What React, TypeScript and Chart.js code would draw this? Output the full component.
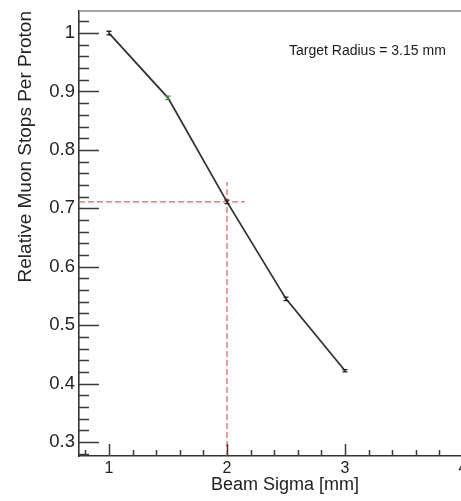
import React, { useEffect, useRef } from 'react';
import { Chart, registerables } from 'chart.js';

Chart.register(...registerables);

// ---- data ----
const sigma = [1, 1.5, 2, 2.5, 3];
const stops = [1.0, 0.889, 0.711, 0.545, 0.422];
const stopErr = [0.003, 0.003, 0.003, 0.003, 0.002];
const errColors = ['#222222', '#3c8c3c', '#222222', '#222222', '#222222'];
const yTickValues = [0.3, 0.4, 0.5, 0.6, 0.7, 0.8, 0.9, 1.0];
const xTickValues = [1, 2, 3, 4];
const refSigma = 2;
const refStops = 0.711;
const refHEnd = 2.15;
const refVEnd = 0.745;
const xRange = [0.746, 4.237];
const yRange = [0.276, 1.0377];
const annotationText = 'Target Radius = 3.15 mm';
const xTitle = 'Beam Sigma [mm]';
const yTitle = 'Relative Muon Stops Per Proton';

const FONT = '"Liberation Sans", Arial, Helvetica, sans-serif';

const framePlugin = {
  id: 'frameTicks',
  afterDatasetsDraw(chart: any) {
    const { ctx, chartArea, scales } = chart;
    const { left, top, right, bottom } = chartArea;
    const x = scales.x;
    const y = scales.y;
    ctx.save();
    // top frame line
    ctx.strokeStyle = '#8a8a8a';
    ctx.lineWidth = 1.5;
    ctx.beginPath();
    ctx.moveTo(left, top);
    ctx.lineTo(right, top);
    ctx.stroke();

    // inward ticks
    ctx.strokeStyle = '#3a3a3a';
    ctx.lineWidth = 1.5;
    ctx.beginPath();
    for (let i = 14; i <= 51; i++) {
      const v = i * 0.02;
      if (v < yRange[0] || v > yRange[1]) continue;
      const major = i % 5 === 0;
      const py = Math.round(y.getPixelForValue(v)) + 0.5;
      ctx.moveTo(left, py);
      ctx.lineTo(left + (major ? 20 : 10), py);
    }
    for (let i = 4; i <= 21; i++) {
      const v = i * 0.2;
      if (v < xRange[0] || v > xRange[1]) continue;
      const major = i % 5 === 0;
      const px = Math.round(x.getPixelForValue(v)) + 0.5;
      ctx.moveTo(px, bottom);
      ctx.lineTo(px, bottom - (major ? 12 : 6));
    }
    ctx.stroke();

    // error bars
    for (let k = 0; k < sigma.length; k++) {
      const px = x.getPixelForValue(sigma[k]);
      const pyLo = y.getPixelForValue(stops[k] - stopErr[k]);
      const pyHi = y.getPixelForValue(stops[k] + stopErr[k]);
      ctx.strokeStyle = errColors[k];
      ctx.lineWidth = 1.3;
      ctx.beginPath();
      ctx.moveTo(px, pyLo);
      ctx.lineTo(px, pyHi);
      ctx.moveTo(px - 2.5, pyLo);
      ctx.lineTo(px + 2.5, pyLo);
      ctx.moveTo(px - 2.5, pyHi);
      ctx.lineTo(px + 2.5, pyHi);
      ctx.stroke();
    }

    // annotation text
    ctx.fillStyle = '#1a1a1a';
    ctx.font = `14px ${FONT}`;
    ctx.textAlign = 'left';
    ctx.textBaseline = 'alphabetic';
    ctx.fillText(annotationText, x.getPixelForValue(2.5) + 3, top + 44);
    ctx.restore();
  },
};

export default function App() {
  const ref = useRef<HTMLCanvasElement | null>(null);

  useEffect(() => {
    document.body.style.margin = '0';
    document.body.style.overflow = 'hidden';
    const canvas = ref.current;
    if (!canvas) return;

    const chart = new Chart(canvas, {
      type: 'line',
      data: {
        datasets: [
          {
            label: 'stops',
            data: sigma.map((s, i) => ({ x: s, y: stops[i] })),
            borderColor: '#333333',
            borderWidth: 1.8,
            pointRadius: 0,
            tension: 0,
            fill: false,
            order: 1,
          },
          {
            label: 'refH',
            data: [
              { x: xRange[0], y: refStops },
              { x: refHEnd, y: refStops },
            ],
            borderColor: 'rgba(232,110,110,0.9)',
            borderWidth: 1.5,
            borderDash: [6, 3],
            pointRadius: 0,
            fill: false,
            order: 2,
          },
          {
            label: 'refV',
            data: [
              { x: refSigma, y: yRange[0] },
              { x: refSigma, y: refVEnd },
            ],
            borderColor: 'rgba(232,110,110,0.9)',
            borderWidth: 1.5,
            borderDash: [6, 3],
            pointRadius: 0,
            fill: false,
            order: 2,
          },
        ],
      },
      options: {
        animation: false,
        responsive: false,
        devicePixelRatio: 1,
        layout: { padding: { top: 11, right: 0, left: 0, bottom: 0 } },
        plugins: {
          legend: { display: false },
          tooltip: { enabled: false },
        },
        scales: {
          x: {
            type: 'linear',
            min: xRange[0],
            max: xRange[1],
            afterBuildTicks: (scale: any) => {
              scale.ticks = xTickValues.map((v) => ({ value: v }));
            },
            afterFit: (scale: any) => {
              scale.height = 45;
              scale.paddingLeft = 0;
              scale.paddingRight = 0;
            },
            grid: { display: false, drawTicks: false },
            border: { display: true, color: '#333333', width: 1.6 },
            ticks: {
              padding: 3,
              color: '#222222',
              maxRotation: 0,
              autoSkip: false,
              font: { family: FONT, size: 16 },
              callback: (v: any) => String(v),
            },
            title: {
              display: true,
              text: xTitle,
              color: '#222222',
              align: 'center',
              padding: { top: 0, bottom: 5 },
              font: { family: FONT, size: 18 },
            },
          },
          y: {
            type: 'linear',
            min: yRange[0],
            max: yRange[1],
            afterBuildTicks: (scale: any) => {
              scale.ticks = yTickValues.map((v) => ({ value: v }));
            },
            afterFit: (scale: any) => {
              scale.width = 79;
              scale.paddingTop = 0;
              scale.paddingBottom = 0;
            },
            grid: { display: false, drawTicks: false },
            border: { display: true, color: '#333333', width: 1.6 },
            ticks: {
              padding: 4,
              color: '#222222',
              autoSkip: false,
              font: { family: FONT, size: 18.5 },
              callback: (v: any) => String(Math.round(v * 10) / 10),
            },
            title: {
              display: true,
              text: yTitle,
              color: '#222222',
              align: 'end',
              padding: { top: 14, bottom: 0 },
              font: { family: FONT, size: 19 },
            },
          },
        },
      },
      plugins: [framePlugin],
    } as any);

    return () => chart.destroy();
  }, []);

  return (
    <div style={{ width: 461, height: 501, overflow: 'hidden', position: 'relative', background: '#fff' }}>
      <canvas ref={ref} width={491} height={501} style={{ display: 'block', width: 491, height: 501 }} />
    </div>
  );
}
